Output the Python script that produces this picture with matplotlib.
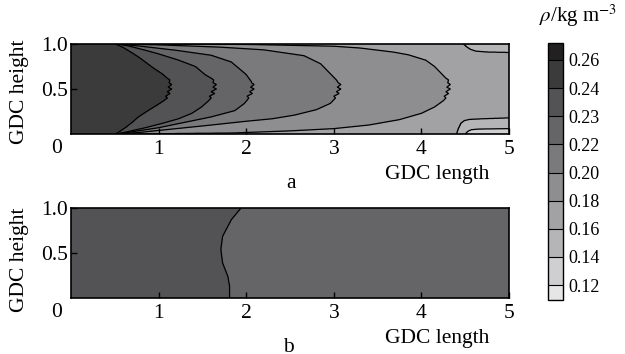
import numpy as np
import matplotlib
matplotlib.use("Agg")
import matplotlib.pyplot as plt
from matplotlib.colors import ListedColormap, BoundaryNorm

plt.rcParams['font.family'] = ['Liberation Serif', 'DejaVu Serif']
plt.rcParams['mathtext.fontset'] = 'stix'

# ---- colour levels (kg m^-3) ----
levels = [0.12, 0.14, 0.16, 0.18, 0.20, 0.22, 0.23, 0.24, 0.26]
level_colors = ['#cfcfd1', '#b5b5b8', '#a2a2a5', '#8e8e91', '#7a7a7d',
                '#656568', '#535355', '#3b3b3c']
color_under = '#e6e6e7'
color_over = '#222021'

# ---- panel a: density fronts x(y) for levels 0.24, 0.23, 0.22, 0.20, 0.18 ----
front_024_y = [0.0, 0.03, 0.07, 0.13, 0.19, 0.26, 0.32, 0.37, 0.40, 0.42, 0.45, 0.47,
               0.50, 0.52, 0.55, 0.57, 0.60, 0.62, 0.67, 0.72, 0.77, 0.85, 0.90, 0.96, 1.0]
front_024_x = [0.51, 0.56, 0.62, 0.70, 0.77, 0.88, 0.98, 1.06, 1.10, 1.08, 1.13, 1.10,
               1.15, 1.11, 1.15, 1.12, 1.13, 1.10, 1.04, 0.96, 0.89, 0.78, 0.70, 0.60, 0.51]

front_023_y = [0.0, 0.02, 0.07, 0.12, 0.17, 0.23, 0.30, 0.36, 0.40, 0.42, 0.45, 0.47,
               0.50, 0.52, 0.55, 0.57, 0.60, 0.62, 0.66, 0.75, 0.82, 0.89, 0.93, 0.98, 1.0]
front_023_x = [0.52, 0.62, 0.85, 1.05, 1.23, 1.38, 1.49, 1.56, 1.60, 1.58, 1.64, 1.60,
               1.66, 1.62, 1.66, 1.62, 1.63, 1.60, 1.53, 1.42, 1.23, 1.00, 0.85, 0.65, 0.52]

front_022_y = [0.0, 0.025, 0.07, 0.13, 0.19, 0.26, 0.34, 0.40, 0.42, 0.45, 0.47, 0.50,
               0.52, 0.55, 0.57, 0.58, 0.66, 0.71, 0.80, 0.875, 0.93, 0.975, 1.0]
front_022_x = [0.53, 0.70, 1.00, 1.30, 1.60, 1.87, 1.98, 2.03, 2.01, 2.07, 2.04, 2.09,
               2.05, 2.09, 2.06, 2.06, 2.00, 1.94, 1.83, 1.60, 1.20, 0.80, 0.53]

front_020_y = [0.0, 0.02, 0.06, 0.10, 0.14, 0.17, 0.21, 0.27, 0.34, 0.40, 0.42, 0.45,
               0.47, 0.50, 0.52, 0.55, 0.57, 0.60, 0.67, 0.78, 0.87, 0.935, 0.965, 0.99, 1.0]
front_020_x = [0.54, 0.80, 1.20, 1.60, 1.98, 2.30, 2.55, 2.80, 2.96, 3.02, 3.00, 3.06,
               3.03, 3.08, 3.04, 3.08, 3.05, 3.03, 2.96, 2.85, 2.66, 2.20, 1.70, 1.00, 0.54]

front_018_y = [0.0, 0.004, 0.012, 0.035, 0.06, 0.10, 0.16, 0.23, 0.30, 0.37, 0.40, 0.42,
               0.45, 0.47, 0.50, 0.52, 0.55, 0.57, 0.60, 0.62, 0.68, 0.75, 0.82, 0.88,
               0.91, 0.955, 0.975, 0.995, 1.0]
front_018_x = [0.55, 1.00, 1.85, 2.50, 3.00, 3.40, 3.75, 4.00, 4.15, 4.25, 4.28, 4.26,
               4.31, 4.28, 4.33, 4.29, 4.33, 4.30, 4.31, 4.28, 4.22, 4.15, 4.05, 3.85,
               3.68, 3.30, 3.00, 2.00, 0.55]

# ---- panel a: corner contours near the outlet, y(x) ----
top016_x = [4.48, 4.52, 4.56, 4.62, 4.75, 5.0]
top016_y = [1.0, 0.965, 0.94, 0.92, 0.91, 0.905]
bot016_x = [4.40, 4.42, 4.45, 4.49, 4.55, 4.70, 5.0]
bot016_y = [0.0, 0.06, 0.12, 0.15, 0.163, 0.17, 0.18]
bot014_x = [4.50, 4.53, 4.57, 4.65, 5.0]
bot014_y = [0.0, 0.03, 0.048, 0.055, 0.06]

# ---- panel b: single front x(y) for level 0.23 ----
front_b_y = [0.0, 0.13, 0.24, 0.39, 0.54, 0.685, 0.87, 1.0]
front_b_x = [1.81, 1.81, 1.79, 1.73, 1.71, 1.73, 1.83, 1.94]

xticks = [1, 2, 3, 4, 5]
yticks = [0.5, 1.0]

# ---- build fields on a grid from the fronts ----
nx, ny = 1200, 500
xg = np.linspace(0, 5, nx)
yg = np.linspace(0, 1, ny)
XX, YY = np.meshgrid(xg, yg)

fronts = [(front_024_y, front_024_x), (front_023_y, front_023_x),
          (front_022_y, front_022_x), (front_020_y, front_020_x),
          (front_018_y, front_018_x)]
front_vals = [0.24, 0.23, 0.22, 0.20, 0.18]
Za_main = np.empty((ny, nx))
for j, yv in enumerate(yg):
    xs = [np.interp(yv, fy, fx) for fy, fx in fronts]
    for k in range(1, len(xs)):
        if xs[k] <= xs[k - 1]:
            xs[k] = xs[k - 1] + 1e-4
    Za_main[j] = np.interp(xg, [0.0] + xs + [5.0], [0.25] + front_vals + [0.17])

Za_corner = np.empty((ny, nx))
for i, xv in enumerate(xg):
    yft = np.interp(xv, top016_x, top016_y, left=1.05)
    yfb = np.interp(xv, bot016_x, bot016_y, left=-0.05)
    ygb = np.interp(xv, bot014_x, bot014_y, left=-0.08)
    Za_corner[:, i] = np.interp(yg, [-0.2, ygb, yfb, yfb + 0.03, yft - 0.03, yft, 1.2],
                                [0.12, 0.14, 0.16, 0.30, 0.30, 0.16, 0.15])
Za = np.minimum(Za_main, Za_corner)

Zb = np.empty((ny, nx))
for j, yv in enumerate(yg):
    xb = np.interp(yv, front_b_y, front_b_x)
    Zb[j] = np.interp(xg, [0.0, xb, 5.0], [0.235, 0.23, 0.225])

cmap = ListedColormap(level_colors).with_extremes(under=color_under, over=color_over)
norm = BoundaryNorm(levels, ncolors=len(level_colors))

W, H = 625, 354
fig = plt.figure(figsize=(W / 100, H / 100), dpi=100)

def fx(px):
    return px / W

def fy(py):
    return 1 - py / H

ax_a = fig.add_axes([fx(71), fy(134), fx(509) - fx(71), fy(44) - fy(134)])
ax_b = fig.add_axes([fx(71), fy(298), fx(509) - fx(71), fy(208) - fy(298)])

fs = 15.5
cs = None
for ax, Z in [(ax_a, Za), (ax_b, Zb)]:
    c = ax.contourf(XX, YY, Z, levels=levels, cmap=cmap, norm=norm, extend='both')
    ax.contour(XX, YY, Z, levels=levels, colors='k', linewidths=0.9)
    if cs is None:
        cs = c
    ax.set_xlim(0, 5)
    ax.set_ylim(0, 1)
    ax.set_xticks(xticks)
    ax.set_xticklabels([str(t) for t in xticks])
    ax.set_yticks(yticks)
    ax.set_yticklabels(['%.1f' % t for t in yticks])
    ax.tick_params(direction='in', length=4, width=1, labelsize=fs, pad=2)
    ax.tick_params(axis='x', pad=4)
    for s in ax.spines.values():
        s.set_linewidth(1.2)
    ax.text(-0.02, -0.06, '0', transform=ax.transAxes, ha='right', va='top', fontsize=fs)

# axis labels
fig.text(fx(20), fy(92), 'GDC height', rotation=90, ha='center', va='center', fontsize=fs)
fig.text(fx(20), fy(260), 'GDC height', rotation=90, ha='center', va='center', fontsize=fs)
fig.text(fx(437), fy(175), 'GDC length', ha='center', va='center', fontsize=fs)
fig.text(fx(437), fy(338), 'GDC length', ha='center', va='center', fontsize=fs)
fig.text(fx(291), fy(184), 'a', ha='center', va='center', fontsize=fs)
fig.text(fx(288), fy(348), 'b', ha='center', va='center', fontsize=fs)

# colorbar (inner part 60-285 px, extensions to 43 and 300 px)
cax = fig.add_axes([fx(548), fy(300), fx(563) - fx(548), fy(43) - fy(300)])
cb = fig.colorbar(cs, cax=cax, extend='both', extendrect=True,
                  extendfrac=[15 / 225, 17 / 225],
                  drawedges=True, spacing='uniform', ticks=levels)
cb.ax.set_yticklabels(['%.2f' % v for v in levels])
cb.ax.tick_params(length=0, labelsize=13, pad=4)
cb.outline.set_linewidth(1.0)
cb.dividers.set_linewidth(0.8)
fig.text(fx(578), fy(16), r'$\rho$/kg m$^{-3}$', ha='center', va='center', fontsize=15)

fig.savefig('out.png', dpi=100)
